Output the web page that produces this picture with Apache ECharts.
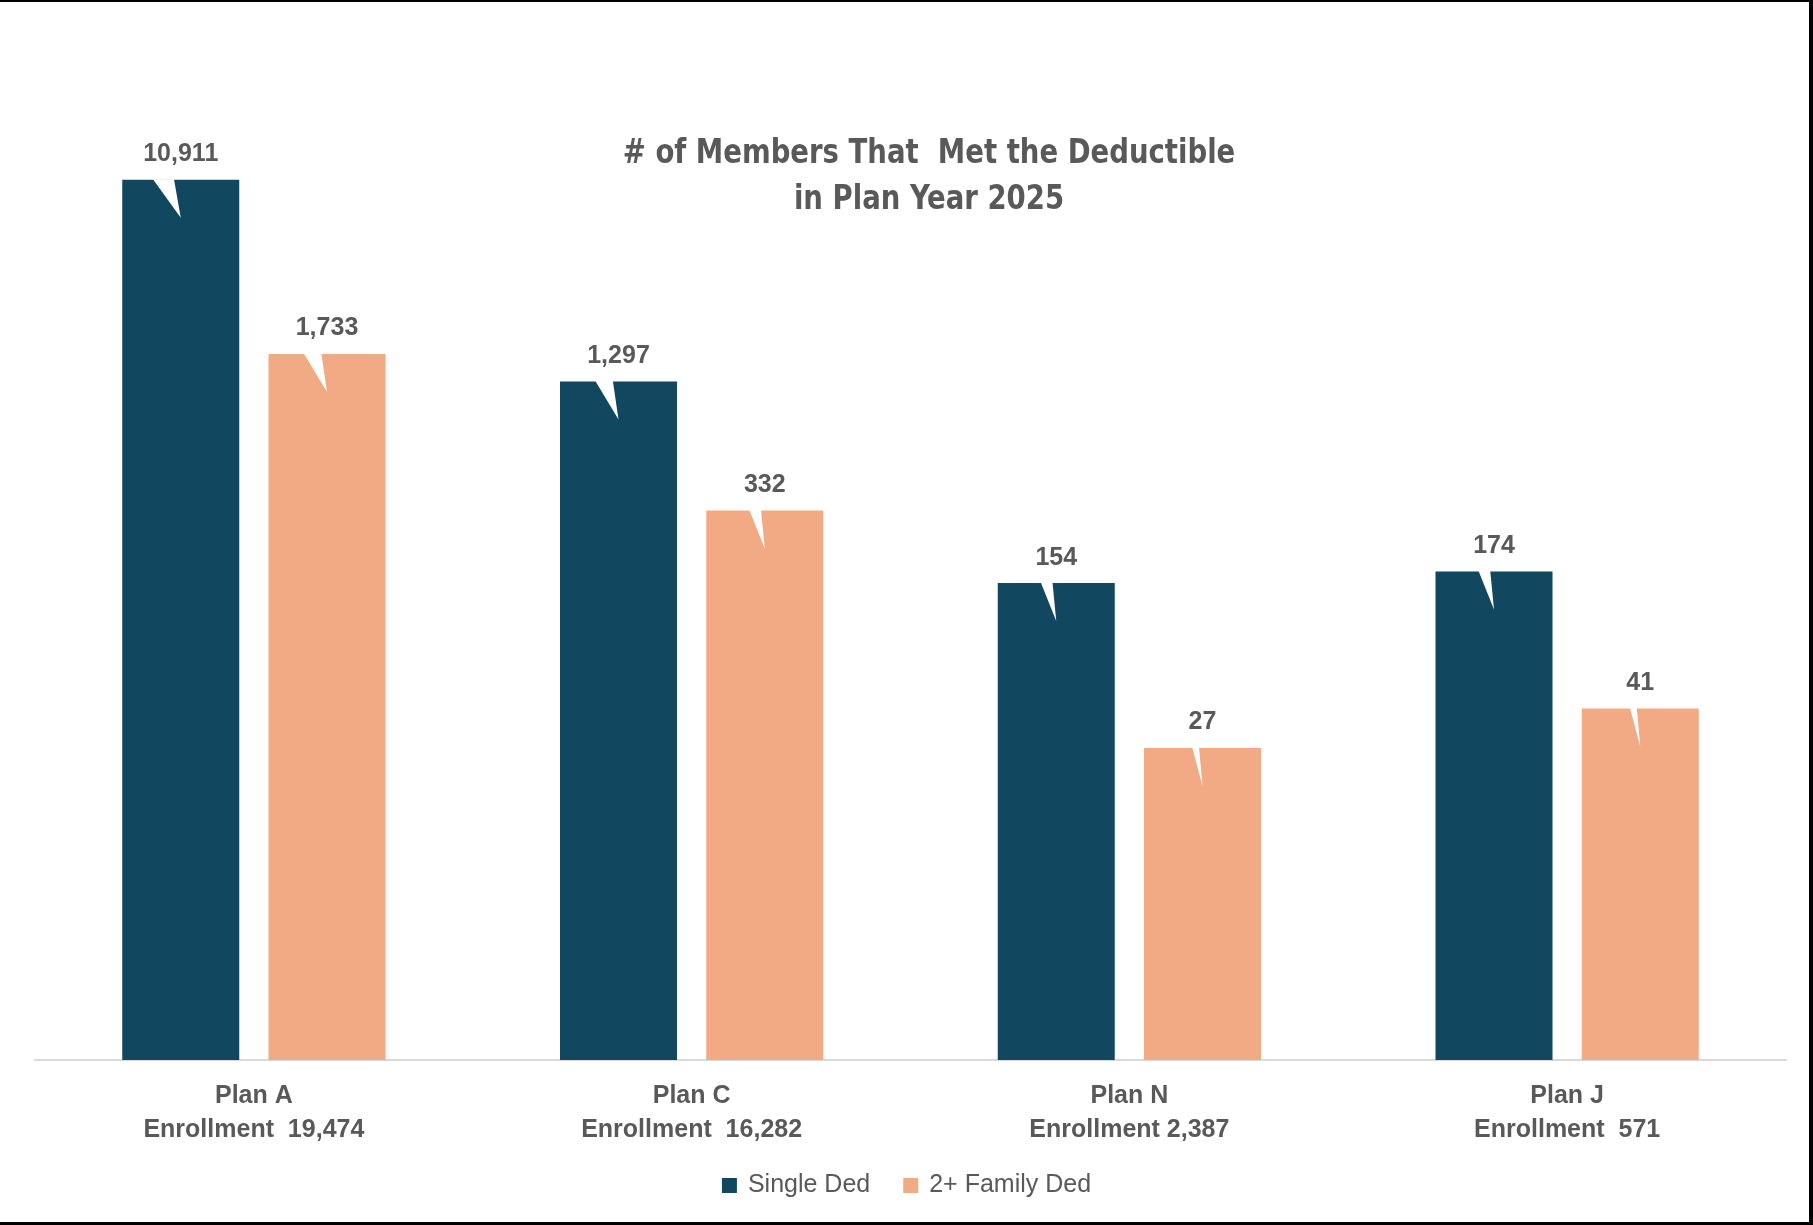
<!DOCTYPE html>
<html>
<head>
<meta charset="utf-8">
<title># of Members That Met the Deductible in Plan Year 2025</title>
<script src="https://cdn.jsdelivr.net/npm/echarts@6/dist/echarts.min.js"></script>
<style>
  html, body { margin: 0; padding: 0; background: #ffffff; }
  #chart { width: 1813px; height: 1225px; }
</style>
</head>
<body>
<div id="chart"></div>
<script>
// Plans and enrollment shown under each group
const plans = ['Plan A', 'Plan C', 'Plan N', 'Plan J'];
const enrollmentLabels = ['Enrollment  19,474', 'Enrollment  16,282', 'Enrollment 2,387', 'Enrollment  571'];

// Members that met the deductible
const seriesNames = ['Single Ded', '2+ Family Ded'];
const singleDed = [10911, 1297, 154, 174];
const familyDed = [1733, 332, 27, 41];

const titleLines = ['# of Members That  Met the Deductible', 'in Plan Year 2025'];

const COLORS = ['#11475F', '#F1AA84'];
const TEXT = '#595959';
const BAR_W = 117;
const BAR_GAP = 0.25;
const SANS = '"Liberation Sans", Arial, sans-serif';
const LABEL_SIZE = 25;
const LABEL_FONT = 'bold ' + LABEL_SIZE + 'px ' + SANS;

const fmt = v => v.toLocaleString('en-US');

// width of a value label, used to size the callout pointer
const measureCtx = document.createElement('canvas').getContext('2d');
measureCtx.font = LABEL_FONT;
const labelWidth = v => measureCtx.measureText(fmt(v)).width;

// white callout pointer running from the label into the top of each bar
function pointerSeries(values, seriesIdx) {
  const shift = (seriesIdx === 0 ? -1 : 1) * (BAR_W * (1 + BAR_GAP)) / 2;
  return {
    type: 'custom',
    z: 5,
    silent: true,
    data: values.map((v, i) => [i, v]),
    renderItem: function (params, api) {
      const p = api.coord([api.value(0), api.value(1)]);
      const cx = p[0] + shift;
      const top = p[1];
      const w = labelWidth(api.value(1));
      return {
        type: 'polygon',
        shape: { points: [[cx - w * 0.37, top - 0.5], [cx - Math.max(3.5, w * 0.09), top - 0.5], [cx, top + 38]] },
        style: { fill: '#ffffff' }
      };
    }
  };
}

function valueLabel() {
  return {
    show: true,
    position: 'top',
    distance: 13,
    formatter: p => fmt(p.value),
    fontFamily: SANS,
    fontWeight: 'bold',
    fontSize: LABEL_SIZE,
    color: TEXT
  };
}

// condensed bold title, two centred lines
const titleGraphics = titleLines.map((line, i) => ({
  type: 'text',
  x: 929,
  y: 154 + i * 46,
  scaleX: 0.9,
  silent: true,
  style: {
    text: line,
    align: 'center',
    verticalAlign: 'middle',
    fontFamily: '"Liberation Sans Narrow", "DejaVu Sans Condensed", sans-serif',
    fontWeight: 'bold',
    fontSize: 34,
    fill: TEXT
  }
}));

const chart = echarts.init(document.getElementById('chart'), null, { renderer: 'canvas' });

chart.setOption({
  backgroundColor: '#ffffff',
  animation: false,
  legend: {
    data: seriesNames.map(n => ({ name: n, icon: 'rect' })),
    left: 'center',
    top: 1168,
    itemWidth: 15,
    itemHeight: 15,
    itemGap: 33,
    textStyle: {
      fontFamily: SANS,
      fontSize: 25,
      color: TEXT,
      padding: [0, 0, 0, 6]
    }
  },
  grid: { left: 35, right: 27, top: 79, bottom: 165 },
  xAxis: {
    type: 'category',
    data: plans,
    axisTick: { show: false },
    axisLine: { lineStyle: { color: '#D9D9D9', width: 2 } },
    axisLabel: {
      margin: 19,
      interval: 0,
      formatter: (v, i) => '{b|' + v + '}\n{b|' + enrollmentLabels[i] + '}',
      rich: {
        b: {
          fontFamily: SANS,
          fontWeight: 'bold',
          fontSize: 25,
          lineHeight: 34,
          color: TEXT
        }
      }
    }
  },
  yAxis: {
    type: 'log',
    logBase: 10,
    min: 1,
    max: 31622.7766,
    show: false,
    splitLine: { show: false }
  },
  series: [
    {
      name: seriesNames[0],
      type: 'bar',
      data: singleDed,
      barWidth: BAR_W,
      barGap: '25%',
      itemStyle: { color: COLORS[0] },
      label: valueLabel()
    },
    {
      name: seriesNames[1],
      type: 'bar',
      data: familyDed,
      barWidth: BAR_W,
      barGap: '25%',
      itemStyle: { color: COLORS[1] },
      label: valueLabel()
    },
    pointerSeries(singleDed, 0),
    pointerSeries(familyDed, 1)
  ],
  graphic: titleGraphics.concat([
    // chart frame: top, right and bottom edges
    { type: 'rect', shape: { x: 0, y: 0, width: 1813, height: 2 }, style: { fill: '#000000' }, silent: true },
    { type: 'rect', shape: { x: 1809, y: 0, width: 4, height: 1225 }, style: { fill: '#000000' }, silent: true },
    { type: 'rect', shape: { x: 0, y: 1222, width: 1813, height: 3 }, style: { fill: '#000000' }, silent: true }
  ])
});
</script>
</body>
</html>
